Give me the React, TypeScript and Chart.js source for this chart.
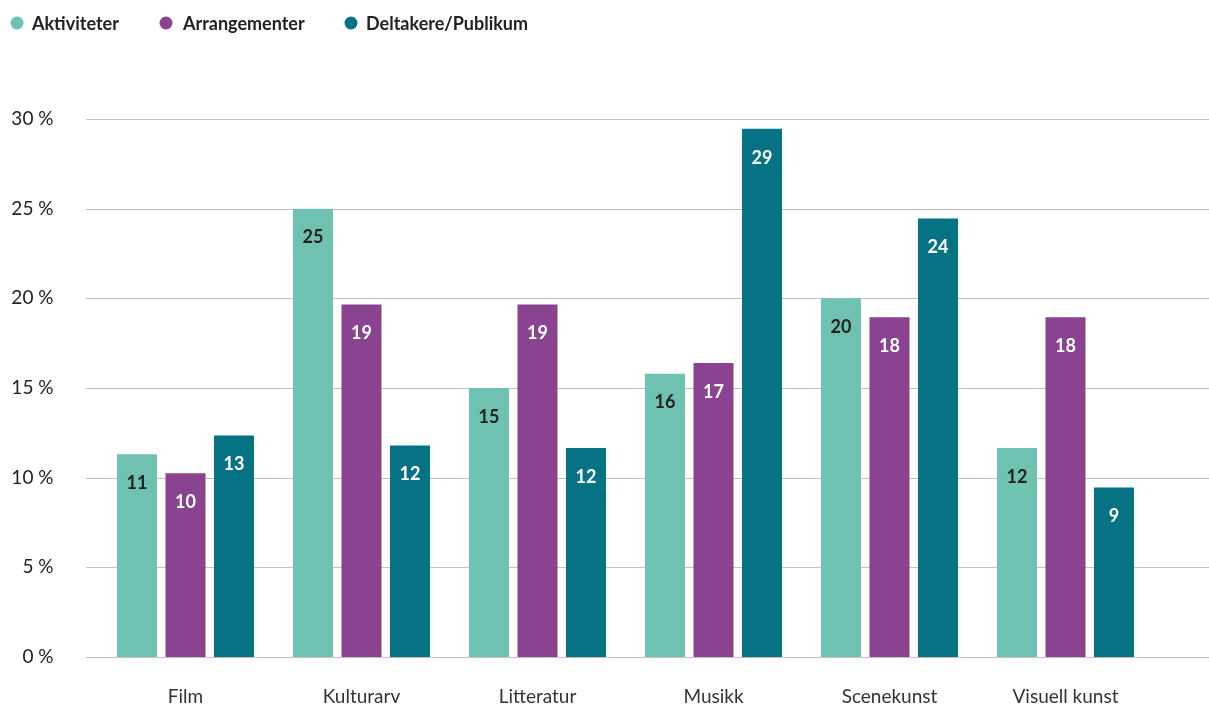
import React, { useEffect, useRef } from "react";
import { Chart, registerables } from "chart.js";

Chart.register(...registerables);

const categories = ["Film", "Kulturarv", "Litteratur", "Musikk", "Scenekunst", "Visuell kunst"];
const seriesNames = ["Aktiviteter", "Arrangementer", "Deltakere/Publikum"];
const seriesColors = ["#6fc2b1", "#8a4390", "#067384"];
const labelColors = ["#222222", "#ffffff", "#ffffff"];

const aktiviteter = [11.3, 25.0, 15.0, 15.8, 20.0, 11.65];
const arrangementer = [10.25, 19.65, 19.65, 16.4, 18.95, 18.95];
const deltakere = [12.35, 11.8, 11.65, 29.45, 24.45, 9.45];

const aktiviteterLabels = ["11", "25", "15", "16", "20", "12"];
const arrangementerLabels = ["10", "19", "19", "17", "18", "18"];
const deltakereLabels = ["13", "12", "12", "29", "24", "9"];

const yTicks = [0, 5, 10, 15, 20, 25, 30];

const FONT = "Lato, 'Open Sans', sans-serif";

export default function App() {
  const ref = useRef<HTMLCanvasElement | null>(null);

  useEffect(() => {
    document.body.style.margin = "0";
    const canvas = ref.current;
    if (!canvas) return;

    const values = [aktiviteter, arrangementer, deltakere];
    const labels = [aktiviteterLabels, arrangementerLabels, deltakereLabels];

    const gridPlugin = {
      id: "fullGrid",
      beforeDatasetsDraw(chart: any) {
        const { ctx } = chart;
        const y = chart.scales.y;
        ctx.save();
        ctx.strokeStyle = "#c2c2c2";
        ctx.lineWidth = 1.2;
        yTicks.forEach((t) => {
          const py = Math.round(y.getPixelForValue(t)) + 0.5;
          ctx.beginPath();
          ctx.moveTo(86, py);
          ctx.lineTo(chart.width, py);
          ctx.stroke();
        });
        ctx.restore();
      },
    };

    const categoryLabelPlugin = {
      id: "categoryLabels",
      afterDraw(chart: any) {
        const { ctx } = chart;
        const x = chart.scales.x;
        ctx.save();
        ctx.font = `19px ${FONT}`;
        ctx.fillStyle = "#333333";
        ctx.textAlign = "center";
        ctx.textBaseline = "middle";
        categories.forEach((c, i) => {
          ctx.fillText(c, x.getPixelForValue(i), chart.chartArea.bottom + 40);
        });
        ctx.restore();
      },
    };

    const labelPlugin = {
      id: "barLabels",
      afterDatasetsDraw(chart: any) {
        const { ctx } = chart;
        ctx.save();
        ctx.font = `bold 18px ${FONT}`;
        ctx.textAlign = "center";
        ctx.textBaseline = "middle";
        chart.data.datasets.forEach((ds: any, di: number) => {
          const meta = chart.getDatasetMeta(di);
          meta.data.forEach((bar: any, i: number) => {
            ctx.fillStyle = labelColors[di];
            ctx.fillText(labels[di][i], bar.x, bar.y + 29);
          });
        });
        ctx.restore();
      },
    };

    const legendPlugin = {
      id: "customLegend",
      afterDraw(chart: any) {
        const { ctx } = chart;
        const items = [
          { cx: 17, tx: 32 },
          { cx: 166, tx: 183 },
          { cx: 351, tx: 366 },
        ];
        ctx.save();
        ctx.font = `bold 18px ${FONT}`;
        ctx.textBaseline = "middle";
        ctx.textAlign = "left";
        seriesNames.forEach((name, i) => {
          ctx.fillStyle = seriesColors[i];
          ctx.beginPath();
          ctx.arc(items[i].cx, 23, 6.5, 0, Math.PI * 2);
          ctx.fill();
          ctx.fillStyle = "#222222";
          ctx.fillText(name, items[i].tx, 24);
        });
        ctx.restore();
      },
    };

    const chart = new Chart(canvas, {
      type: "bar",
      data: {
        labels: categories,
        datasets: seriesNames.map((name, i) => ({
          label: name,
          data: values[i],
          backgroundColor: seriesColors[i],
          borderWidth: 0,
          categoryPercentage: 0.827,
          barPercentage: 0.825,
        })),
      },
      options: {
        responsive: false,
        animation: false,
        maintainAspectRatio: false,
        layout: { padding: { top: 119, right: 55.5, bottom: 49, left: 0 } },
        plugins: {
          legend: { display: false },
          tooltip: { enabled: false },
        },
        scales: {
          x: {
            grid: { display: false, drawTicks: false },
            border: { display: false },
            ticks: { display: false },
          },
          y: {
            min: 0,
            max: 30,
            grid: { display: false, drawTicks: false },
            border: { display: false },
            afterBuildTicks(scale: any) {
              scale.ticks = yTicks.map((v) => ({ value: v }));
            },
            ticks: {
              padding: 44,
              color: "#222222",
              font: { family: FONT, size: 19, lineHeight: 0.2 },
              callback: (v: any) => `${v} %`,
            },
            afterFit(scale: any) {
              scale.width = 97.5;
            },
          },
        },
      },
      plugins: [gridPlugin, labelPlugin, categoryLabelPlugin, legendPlugin],
    });

    return () => chart.destroy();
  }, []);

  return <canvas ref={ref} width={1209} height={706} style={{ display: "block" }} />;
}
